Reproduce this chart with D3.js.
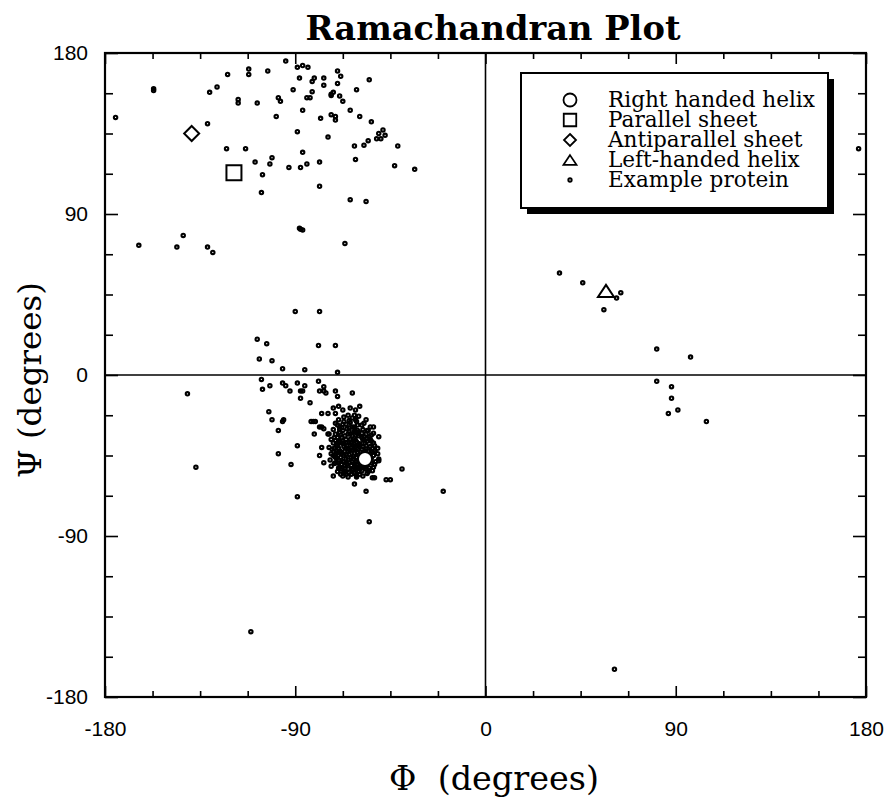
<!DOCTYPE html>
<html><head><meta charset="utf-8">
<script src="https://cdn.jsdelivr.net/npm/d3@7/dist/d3.min.js"></script>
<style>body{margin:0;background:#fff}svg{display:block}</style>
</head><body><svg id="c" width="886" height="797"></svg>
<script>
// ---------- data ----------
const axisTickValues = [-180, -90, 0, 90, 180];
const axisTickLabels = ["-180", "-90", "0", "90", "180"];
const minorTickValues = [-157.5,-135,-112.5,-67.5,-45,-22.5,22.5,45,67.5,112.5,135,157.5];

const refNames = ["Right handed helix", "Parallel sheet", "Antiparallel sheet", "Left-handed helix"];
const refSymbols = ["circle", "square", "diamond", "triangle"];
const refPhi = [-57, -119, -139, 57];
const refPsi = [-47, 113, 135, 47];
const exampleName = "Example protein";

const proteinPhi = [
-175,-157,-157,-130.5,-127,-122,-112,-112,-103,-94.5,-89,-86.5,-84,-88,-81,-82,-76.5,-70,-68.5,-70,-76.5,-55,-61,-91,-82,-84.5,-83,-72,-73,-73,-69,-67.5,-117,-117,-108,-98,-97,-86.5,-64,-59.5,-54,-99,-78,-73,-71,-71,-131.5,-89,-74.5,-48.5,-50.5,-47.5,-51.5,-49.5,-55.5,-57.5,-62,-41.5,-122.5,-113.5,-86.5,-109,-101,-102,-93,-87.5,-84.5,-78.5,-61.5,-43,-33.5,-105.5,-78.5,-106,-64,-56.5,-88,-86.5,-87.5,-66.5,-164,-146,-143,-131.5,-129,
-90,-78.5,-108,-103.5,-79,-71,-107,-101,-96,-85.5,-70,-106,-105.5,-102,-96,-94.5,-92.5,-89,-87.5,-86.5,-85.5,-79,-78.5,-76.5,-75.5,-76.5,-71,-70,-87.5,-83,-63,-102.5,-101,-96,-95.5,-98,-89,-98,-92,-89,-55,-20,-39.5,-47,-45,-56.5,-62,-72,-76.5,-78.5,-77.5,-74,-81,-81.5,-82.5,-80.5,-77.5,-76.5,-77.5,-74.5,-72,-69.5,-67.5,-71,-64,-61.5,-59.5,-65,-62,-61.5,-56.5,-58.5,-60.5,-54.5,-53,-63,-53,-50.5,-60.5,-57.5,-55,-51,-50.5,-50.5,-53.5,-52.5,-64.5,-62,-71,-74.5,-74,-78.5,
-70,-68,-66,-69,-66.5,-64.5,-63,-67.5,-70,-65.5,-63.5,-61.5,-68.5,-66,-64,-61.5,-59.5,-70.5,-67.5,-65,-62.5,-60.5,-58.5,-56.5,-69,-66.5,-63.5,-61.5,-59.5,-57.5,-55.5,-53.5,-64.5,-61.5,-71.5,-70.5,-60.5,-62.5,-56,-54,-52.5,-58.5,-69.5,-67,-64,-60.5,-72,-55.5,-53,-52,-66,-68.5,-61,-58,-69.5,-59,-56.5,
-71,-67,-63,-60,-71,-67.5,-62,-58,-72,-68,-64,-60,-56,-54,-71.5,-67,-62.5,-58,-54.5,-51,-72,-68.5,-64.5,-60,-56,-53,-71.5,-68,-64.5,-61,-57.5,-54,-70,-66.5,-63,-60,-56.5,-53.5,-73,-73,-57,-63,-66,-69,-59,-55,-61,-65,-69,-65,-73,-62.5,-58.5,-67,
-69,-65.5,-62,-58.5,-55.5,-70,-66,-62,-58,-54.5,-70.5,-67,-63.5,-60,-56.5,-52.5,-70,-66.5,-62,-58,-54.5,-69.5,-66,-63,-59.5,-56,-52.5,-68.5,-65,-61.5,-58,-55,-67.5,-63.5,-59.5,-56,-71,-72.5,-73.5,-65,-60.5,-68,
-67.5,-64.5,-61,-57.5,-68.5,-64,-60,-56,-71,-68,-64.5,-61,-57.5,-53,-69.5,-66,-61.5,-57,-53.5,-71,-67,-63.5,-61,-57,-54,-70,-67,-65.5,-62,-59,-57,-69.5,-66.5,-62,-59.5,-55,-63.5,-59.5,-65,-69,
-141,-137,-111,
35,46,64,62,56,81,97,81,88,88,91,86.5,104.5,176.5,61
];
const proteinPsi = [
144,160,159,158,161,168,171,168,170,175.5,172,173,172,166,166,164,166,170,167,163,162,165,159.5,159.5,158.4,155,155,158,157,156.3,156,153,154,152,152,155,153,148,148,144.5,141.5,144.5,143.5,145.5,144.5,142.5,140.5,136,133,137,135,134,132,132,131,128.5,128,128,126.5,126.5,124.5,119,121.5,118,116,116,118,119,120.5,117,115,112,105.5,102,98,97,82,81,81.5,73.5,72.5,71.5,78,71.5,68.5,
35.5,35.5,20,17.5,16.5,16.5,9,8,3.5,3,1.5,-2.5,-8,-6,-4.5,-6,-9,-4.5,-9,-9,-6,-3.5,-9,-6.5,-10,-9,-9,-12,-13,-15.5,-10,-20.5,-25,-26,-25,-31,-39.5,-44,-50,-68,-82,-65,-52.5,-58.5,-58.5,-65,-61,-56.5,-49,-45,-40.5,-40.5,-33,-26,-26,-26,-29,-30,-21.5,-21.5,-18.5,-17.5,-19.5,-21.5,-18.5,-19.5,-17.5,-22.5,-22.5,-25,-25,-28,-28,-29,-29,-29,-32.5,-34.5,-33,-34.5,-34.5,-44,-47,-48,-57.5,-57.5,-54.5,-54.5,-49,-33,-33,-29,
-28,-29.5,-27.5,-32,-34,-31.5,-34,-37,-39.5,-39.5,-37.5,-36.5,-43,-44.5,-42,-40,-38.5,-46.5,-48.5,-47.5,-45.5,-43,-41.5,-39.5,-51.5,-52.5,-50.5,-48.5,-46.5,-44.5,-42.5,-41,-29.5,-32,-35,-42.5,-51.5,-53,-37,-37,-39.5,-35,-25,-23.5,-26.5,-31,-30.5,-54,-51.5,-48.5,-55.5,-55.5,-56,-56.5,-37,-51.5,-33,
-27,-26,-24,-23,-33,-31,-29,-30.5,-38,-35,-36,-34,-35.5,-33.5,-41,-40,-39.5,-40,-40,-41,-45,-46,-44.5,-45,-45.5,-45,-49.5,-50,-49,-50,-49.5,-49,-54,-50.5,-52.5,-54,-52.5,-53.5,-51,-44,-38,-42,-38,-42.5,-43,-47.5,-57,-57,-29,-33,-36,-47,-53.5,-53.5,
-30.5,-30,-31.5,-32.5,-31,-35,-36,-35.5,-36,-36,-39,-38.5,-38,-39,-41.5,-42.5,-43.5,-42.5,-43.5,-44,-44,-47.5,-47,-48.5,-48,-50,-50,-52.5,-52.5,-52,-51,-52,-56.5,-55.5,-55.5,-55,-46,-41.5,-47.5,-41,-41.5,-44,
-27.5,-25.5,-26,-27,-33.5,-33,-32,-31,-36.5,-38,-37.5,-37.5,-36.5,-38,-41,-41,-42,-42.5,-43,-44.5,-45,-46,-46,-46.5,-46.5,-49,-48.5,-50,-49.5,-50,-51.5,-52,-54.5,-55,-52.5,-53.5,-40.5,-40,-43,-37.5,
-10.5,-51.5,-143.5,
57,51.5,46,43,36.5,14.5,10,-3.5,-6.5,-13,-19.5,-21.5,-26,126.5,-164.5
];

// ---------- layout ----------
const svg = d3.select("#c");
const L = 105, R = 866, T = 53, B = 697;
const x = d3.scaleLinear().domain([-180, 180]).range([L, R]);
const y = d3.scaleLinear().domain([-180, 180]).range([B, T]);
const serif = "'DejaVu Serif', serif";
const sans = "'Liberation Sans', Arial, sans-serif";

function fitWidth(sel, target) {
  const w = sel.node().getComputedTextLength();
  const fs = parseFloat(sel.attr("font-size"));
  sel.attr("font-size", (fs * target / w).toFixed(2));
}

function symPath(type, s) {
  const h = s / 2;
  if (type === "circle") return `M${h},0A${h},${h} 0 1,1 ${-h},0A${h},${h} 0 1,1 ${h},0Z`;
  if (type === "square") return `M${-h},${-h}H${h}V${h}H${-h}Z`;
  if (type === "diamond") return `M0,${-h}L${h},0L0,${h}L${-h},0Z`;
  if (type === "triangle") return `M0,${-h*0.75}L${h},${h*0.75}L${-h},${h*0.75}Z`;
}

// ---------- axes ----------
function drawAxis(axis, transform, labels) {
  const g = svg.append("g").attr("transform", transform).call(axis);
  g.select(".domain").remove();
  g.selectAll(".tick line").attr("stroke", "#000").attr("stroke-width", 1.6);
  g.selectAll(".tick text").attr("font-family", sans).attr("font-size", 21).attr("fill", "#000");
  if (!labels) g.selectAll(".tick text").remove();
  return g;
}
const fmt = d => axisTickLabels[axisTickValues.indexOf(d)];
drawAxis(d3.axisBottom(x).tickValues(axisTickValues).tickSize(-11).tickPadding(24).tickFormat(fmt), `translate(0,${B})`, true);
drawAxis(d3.axisBottom(x).tickValues(minorTickValues).tickSize(-6).tickFormat(""), `translate(0,${B})`, false);
drawAxis(d3.axisTop(x).tickValues(axisTickValues).tickSize(-11).tickFormat(""), `translate(0,${T})`, false);
drawAxis(d3.axisTop(x).tickValues(minorTickValues).tickSize(-6).tickFormat(""), `translate(0,${T})`, false);
drawAxis(d3.axisLeft(y).tickValues(axisTickValues).tickSize(-13).tickPadding(17).tickFormat(fmt), `translate(${L},0)`, true);
drawAxis(d3.axisLeft(y).tickValues(minorTickValues).tickSize(-8).tickFormat(""), `translate(${L},0)`, false);
drawAxis(d3.axisRight(y).tickValues(axisTickValues).tickSize(-13).tickFormat(""), `translate(${R},0)`, false);
drawAxis(d3.axisRight(y).tickValues(minorTickValues).tickSize(-8).tickFormat(""), `translate(${R},0)`, false);

svg.append("line").attr("x1", x(0)).attr("x2", x(0)).attr("y1", T).attr("y2", B).attr("stroke", "#000").attr("stroke-width", 1.6);
svg.append("line").attr("x1", L).attr("x2", R).attr("y1", y(0)).attr("y2", y(0)).attr("stroke", "#000").attr("stroke-width", 1.6);

svg.append("rect").attr("x", L).attr("y", T).attr("width", R - L).attr("height", B - T)
  .attr("fill", "none").attr("stroke", "#000").attr("stroke-width", 2.2);

// ---------- example protein points (open rings) ----------
svg.append("g").selectAll("circle").data(proteinPhi.map((p, i) => [p, proteinPsi[i]])).join("circle")
  .attr("cx", d => x(d[0])).attr("cy", d => y(d[1])).attr("r", 1.7)
  .attr("fill", "none").attr("stroke", "#000").attr("stroke-width", 2.1);

// ---------- reference markers ----------
const refSize = {circle: 14, square: 15, diamond: 15, triangle: 16};
svg.append("g").selectAll("path").data(refNames.map((n, i) => i)).join("path")
  .attr("transform", i => `translate(${x(refPhi[i])},${y(refPsi[i])})`)
  .attr("d", i => symPath(refSymbols[i], refSize[refSymbols[i]]))
  .attr("fill", "#fff").attr("stroke", "#000").attr("stroke-width", 2);

// ---------- legend ----------
const lg = svg.append("g");
const lx = 521, ly = 73, lw = 307, lh = 135;
lg.append("rect").attr("x", lx + 6).attr("y", ly + 6).attr("width", lw).attr("height", lh).attr("fill", "#000");
lg.append("rect").attr("x", lx).attr("y", ly).attr("width", lw).attr("height", lh)
  .attr("fill", "#fff").attr("stroke", "#000").attr("stroke-width", 2);
const legNames = refNames.concat([exampleName]);
const legSyms = refSymbols.concat(["dot"]);
const legSize = {circle: 13, square: 12.5, diamond: 12, triangle: 13};
let legFs = 18;
legNames.forEach((n, i) => {
  const cy = 100 + i * 20;
  if (legSyms[i] === "dot") {
    lg.append("circle").attr("cx", 570).attr("cy", cy).attr("r", 1.7)
      .attr("fill", "none").attr("stroke", "#000").attr("stroke-width", 1.9);
  } else {
    lg.append("path").attr("transform", `translate(570,${cy})`).attr("d", symPath(legSyms[i], legSize[legSyms[i]]))
      .attr("fill", "#fff").attr("stroke", "#000").attr("stroke-width", 1.8);
  }
  const t = lg.append("text").attr("x", 608).attr("y", cy + 6.5).attr("font-family", serif)
    .attr("font-size", legFs).text(n);
  if (i === 0) { fitWidth(t, 207); legFs = t.attr("font-size"); }
});

// ---------- titles ----------
const title = svg.append("text").attr("x", 493).attr("y", 40).attr("text-anchor", "middle")
  .attr("font-family", serif).attr("font-weight", "bold").attr("font-size", 28).text("Ramachandran Plot");
fitWidth(title, 375);

const xl = svg.append("text").attr("x", 494).attr("y", 790).attr("text-anchor", "middle")
  .attr("font-family", serif).attr("font-size", 28).style("white-space", "pre")
  .text("\u03A6  (degrees)");
fitWidth(xl, 210);

const yl = svg.append("text").attr("transform", `translate(41,380) rotate(-90)`).attr("text-anchor", "middle")
  .attr("font-family", serif).attr("font-size", 28).text("\u03A8 (degrees)");
fitWidth(yl, 196);
</script></body></html>
